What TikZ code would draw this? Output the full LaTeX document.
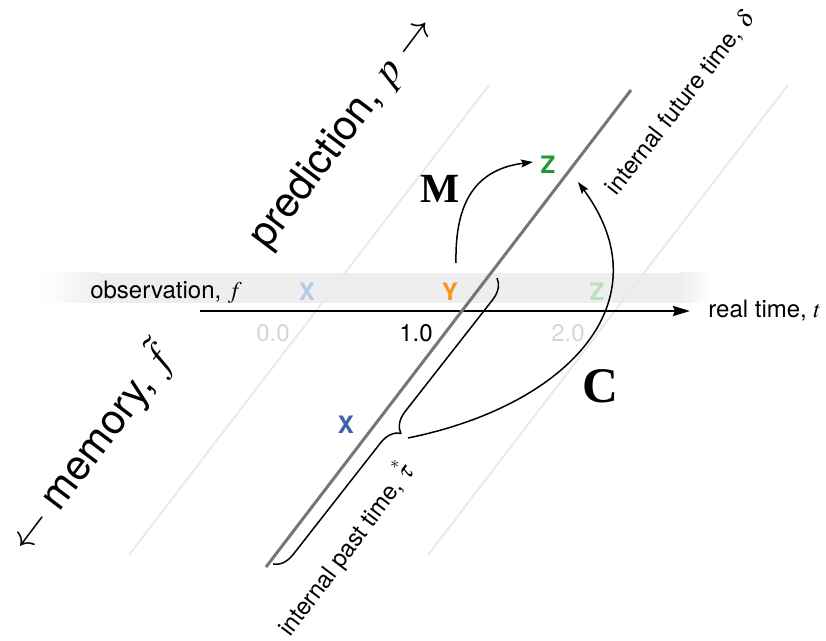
\documentclass[tikz,border=0pt]{standalone}
\usepackage{amsmath}
\usepackage{mathptmx}
\usepackage{fontspec}
\setsansfont{TeX Gyre Heros}
\newfontfamily\boldserif{Liberation Serif}
\usepackage{tikz}
\usetikzlibrary{arrows.meta, decorations.pathreplacing, positioning}
\definecolor{bandgray}{RGB}{238,238,238}
\definecolor{faintgray}{RGB}{234,234,234}
\definecolor{linegray}{RGB}{118,118,118}
\definecolor{ticklight}{RGB}{214,214,214}
\definecolor{darkblue}{RGB}{58,99,168}
\definecolor{lightblue}{RGB}{182,202,232}
\definecolor{yorange}{RGB}{247,147,30}
\definecolor{darkgreen}{RGB}{30,154,58}
\definecolor{lightgreen}{RGB}{184,224,190}

\begin{document}
\begin{tikzpicture}[
    x=0.5pt, y=0.5pt,
    lbl/.style={font=\sffamily\large, inner sep=0pt},
    sym/.style={font=\sffamily\bfseries\large, inner sep=0pt},
    big/.style={font=\sffamily\huge, inner sep=0pt},
    op/.style={font=\boldserif\bfseries, inner sep=0pt},
    faint/.style={faintgray, line width=1pt},
    mainline/.style={linegray, line width=1.5pt},
    axis/.style={-{Stealth[length=8.5pt,width=5pt,inset=1pt]}, line width=1.2pt},
    curve/.style={-{Stealth[length=6pt,width=4pt,inset=1pt]}, line width=0.75pt}
]
\useasboundingbox (0,0) rectangle (826,-641);

% observation band
\shade[left color=white, right color=bandgray] (40,-303) rectangle (100,-273);
\fill[bandgray] (100,-303) rectangle (680,-273);
\shade[left color=bandgray, right color=white] (680,-303) rectangle (712,-273);

% faint time lines
\draw[faint] (129,-555) -- (489,-85);
\draw[faint] (428,-555) -- (788,-85);

% real time axis
\coordinate (t0) at (200,-311);
\coordinate (tend) at (690,-311);
\draw[axis] (t0) -- (tend);
\node[lbl, anchor=west, right=9pt of tend] (treal) {real time, $t$};
\node[lbl, text=ticklight] (tick0) at (273,-333) {0.0};
\node[lbl] (tick1) at (416,-333) {1.0};
\node[lbl, text=ticklight] (tick2) at (568,-333) {2.0};

% internal time line
\coordinate (pa) at (266,-567);
\coordinate (pb) at (631,-90);
\draw[mainline] (pa) -- (pb);

% band letters
\node[lbl] (obs) at (166,-292) {observation, $f$};
\node[sym, text=lightblue] (xo) at (307,-292) {X};
\node[sym, text=yorange] (yo) at (450,-292) {Y};
\node[sym, text=lightgreen] (zo) at (597,-292) {Z};
\node[sym, text=darkblue] (xm) at (346,-425) {X};
\node[sym, text=darkgreen] (zp) at (548,-165) {Z};

% brace over the past part
\coordinate (bra) at (497,-278);
\coordinate (brb) at (273,-564);
\draw[decorate, decoration={brace, amplitude=10pt}, line width=0.75pt] (bra) -- (brb);

% M and C arrows
\coordinate (mstart) at (456,-263);
\coordinate (mend) at (533,-162);
\draw[curve] (mstart) .. controls (455,-210) and (470,-170) .. (mend);
\node[op, font=\boldserif\bfseries\huge] (mlab) at (440,-189) {M};
\coordinate (cstart) at (408,-438);
\coordinate (cend) at (578,-182);
\draw[curve] (cstart) .. controls (570,-405) and (665,-300) .. (cend);
\node[op, font=\boldserif\bfseries\Huge] (clab) at (600,-386) {C};

% rotated labels
\node[big, rotate=53] (pred) at (343,-133) {prediction, $p$ $\rightarrow$};
\node[big, rotate=53] (mem) at (92,-448) {$\leftarrow$ memory, $\tilde{f}$};
\node[lbl, rotate=52] (fut) at (681,-103) {internal future time, $\delta$};
\node[lbl, rotate=53] (past) at (344,-548) {internal past time, $\overset{*}{\tau}$};
\end{tikzpicture}
\end{document}
